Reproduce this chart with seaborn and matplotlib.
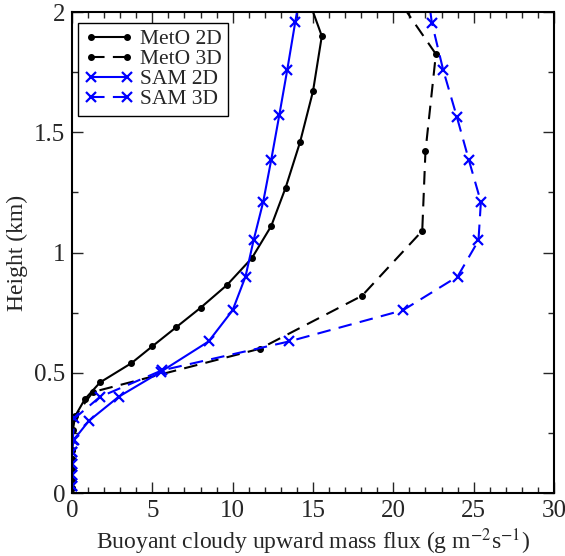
import numpy as np
import pandas as pd
import matplotlib
matplotlib.use("Agg")
import matplotlib.pyplot as plt
import seaborn as sns

# data (flux in g m-2 s-1, height in km)
meto2d_flux = [0.0, 0.0, 0.0, 0.0, 0.0, 0.0, 0.05, 0.2, 0.8, 1.75, 3.7, 5.0, 6.5, 8.0,
               9.65, 11.2, 12.4, 13.3, 14.2, 15.0, 15.55, 14.3]
meto2d_z = [0.02, 0.06, 0.10, 0.14, 0.18, 0.22, 0.26, 0.32, 0.39, 0.46, 0.54, 0.61, 0.69, 0.77,
            0.865, 0.977, 1.11, 1.27, 1.46, 1.67, 1.90, 2.13]

meto3d_flux = [0.0, 0.0, 0.0, 0.0, 0.0, 0.0, 0.1, 1.3, 11.7, 18.05, 21.8, 22.0, 22.65, 19.3]
meto3d_z = [0.02, 0.06, 0.10, 0.14, 0.18, 0.22, 0.31, 0.42, 0.60, 0.82, 1.09, 1.42, 1.825, 2.15]

sam2d_flux = [0.0, 0.0, 0.0, 0.0, 0.1, 1.05, 2.9, 5.55, 8.5, 10.0, 10.8, 11.3, 11.9, 12.4,
              12.9, 13.4, 13.9, 14.4]
sam2d_z = [0.03, 0.075, 0.12, 0.17, 0.22, 0.30, 0.40, 0.505, 0.63, 0.76, 0.90, 1.05, 1.21, 1.385,
           1.57, 1.76, 1.96, 2.15]

sam3d_flux = [0.0, 0.0, 0.0, 0.0, 0.05, 0.15, 1.75, 5.6, 13.5, 20.6, 24.0, 25.3, 25.45, 24.7,
              23.95, 23.1, 22.4, 22.0]
sam3d_z = [0.03, 0.075, 0.12, 0.17, 0.22, 0.31, 0.40, 0.51, 0.63, 0.76, 0.90, 1.05, 1.21, 1.385,
           1.565, 1.76, 1.955, 2.15]

sns.set_style("ticks")
plt.rcParams['font.family'] = ['Liberation Serif', 'DejaVu Serif']
plt.rcParams['mathtext.fontset'] = 'stix'

fig = plt.figure(figsize=(5.65, 5.56), dpi=100)
ax = fig.add_axes([0.1274, 0.1133, 0.8531, 0.8651])

dash = (0, (6.5, 4))
series = [
    (meto2d_flux, meto2d_z, 'MetO 2D', 'black', '-', 'o', 4, 1),
    (meto3d_flux, meto3d_z, 'MetO 3D', 'black', dash, 'o', 4, 1),
    (sam2d_flux, sam2d_z, 'SAM 2D', 'blue', '-', 'x', 7.5, 1.6),
    (sam3d_flux, sam3d_z, 'SAM 3D', 'blue', dash, 'x', 7.5, 1.6),
]
for fx, fz, name, col, ls, mk, ms, mew in series:
    d = pd.DataFrame({'flux': fx, 'z': fz})
    sns.lineplot(data=d, x='flux', y='z', sort=False, estimator=None, ax=ax,
                 color=col, linestyle=ls, linewidth=1.5, marker=mk, markersize=ms,
                 markeredgewidth=mew, markeredgecolor=col, label=name)

ax.set_xlim(0, 30)
ax.set_ylim(0, 2)
ax.xaxis.set_major_locator(plt.MultipleLocator(5))
ax.xaxis.set_minor_locator(plt.MultipleLocator(1))
ax.yaxis.set_major_locator(plt.MultipleLocator(0.5))
ax.yaxis.set_minor_locator(plt.MultipleLocator(0.25))
ax.set_yticks([0, 0.5, 1, 1.5, 2])
ax.set_yticklabels(['0', '0.5', '1', '1.5', '2'])
ax.tick_params(which='both', direction='in', top=True, right=True, labelsize=18, width=1)
ax.tick_params(which='major', length=8, pad=5)
ax.tick_params(which='minor', length=4)
for s in ax.spines.values():
    s.set_linewidth(1.5)
    s.set_color('black')

ax.set_xlabel('Buoyant cloudy upward mass flux (g m$^{-2}$s$^{-1}$)', fontsize=17, labelpad=3)
ax.set_ylabel('Height (km)', fontsize=17, labelpad=4)

leg = ax.legend(loc='upper left', bbox_to_anchor=(0.012, 0.978), fontsize=15.5,
                handlelength=2.3, labelspacing=0.0, borderpad=0.3, handletextpad=0.3,
                numpoints=2, fancybox=False, framealpha=1, edgecolor='black',
                borderaxespad=0)
leg.get_frame().set_linewidth(1)

fig.savefig('out.png', dpi=100)
